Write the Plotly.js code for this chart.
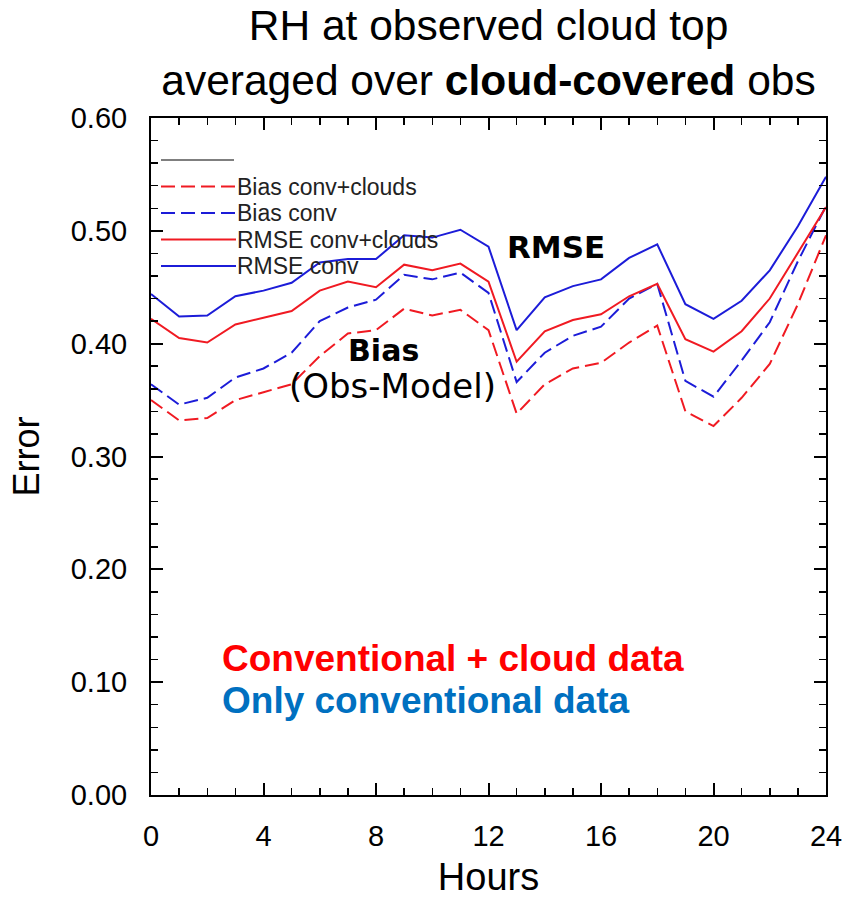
<!DOCTYPE html>
<html>
<head>
<meta charset="utf-8">
<script src="https://cdn.plot.ly/plotly-3.0.1.min.js"></script>
<style>html,body{margin:0;padding:0;background:#fff;}#chart{width:843px;height:898px;}</style>
</head>
<body>
<div id="chart"></div>
<script>
const hours = [0,1,2,3,4,5,6,7,8,9,10,11,12,13,14,15,16,17,18,19,20,21,22,23,24];
const biasConvClouds = [0.350,0.332,0.334,0.350,0.357,0.364,0.389,0.409,0.412,0.431,0.425,0.430,0.412,0.338,0.364,0.378,0.383,0.401,0.416,0.340,0.327,0.352,0.382,0.435,0.496];
const biasConv = [0.364,0.346,0.352,0.370,0.378,0.392,0.420,0.432,0.439,0.461,0.457,0.463,0.445,0.366,0.392,0.407,0.415,0.440,0.453,0.367,0.353,0.385,0.419,0.473,0.522];
const rmseConvClouds = [0.422,0.405,0.401,0.417,0.423,0.429,0.447,0.455,0.450,0.470,0.465,0.471,0.455,0.384,0.411,0.421,0.426,0.442,0.453,0.404,0.393,0.411,0.440,0.481,0.521];
const rmseConv = [0.444,0.424,0.425,0.442,0.447,0.454,0.472,0.475,0.475,0.496,0.494,0.501,0.486,0.412,0.441,0.451,0.457,0.476,0.488,0.435,0.422,0.438,0.465,0.504,0.548];
const seriesNames = ["Bias conv+clouds","Bias conv","RMSE conv+clouds","RMSE conv"];
const yTickVals = [0,0.1,0.2,0.3,0.4,0.5,0.6];
const xTickVals = [0,4,8,12,16,20,24];

const RED = "#f01a22";
const BLUE = "#1c1cd8";

const seriesData = [biasConvClouds, biasConv, rmseConvClouds, rmseConv];
const seriesColors = [RED, BLUE, RED, BLUE];
const seriesDash = ["14px,6px","14px,6px","solid","solid"];

const traces = seriesData.map((ys, i) => ({
  x: hours, y: ys, type: "scatter", mode: "lines", name: seriesNames[i],
  line: {color: seriesColors[i], width: 2, dash: seriesDash[i]},
  hoverinfo: "skip"
}));

// custom legend (long line keys like the original)
const W = 843, H = 898, mL = 151, mR = 17, mT = 118, mB = 103;
const pw = W - mL - mR, ph = H - mT - mB;
const px = v => (v - mL) / pw;
const py = v => (H - mB - v) / ph;
const legendY = [186.5, 213, 239.5, 266];
const shapes = [{type:"line", xref:"paper", yref:"paper", x0:px(161), x1:px(234), y0:py(160), y1:py(160), line:{color:"#555", width:1.5}}];
const annotations = [];
seriesNames.forEach((n, i) => {
  shapes.push({type:"line", xref:"paper", yref:"paper", x0:px(161), x1:px(236), y0:py(legendY[i]), y1:py(legendY[i]),
    line:{color: seriesColors[i], width: 2, dash: seriesDash[i] === "solid" ? "solid" : "14px,6px"}});
  annotations.push({xref:"paper", yref:"paper", x:px(235), y:py(legendY[i]), xanchor:"left", yanchor:"middle",
    text:n, showarrow:false, font:{family:"Arial, Liberation Sans, sans-serif", size:23, color:"#222"}});
});
const comic = "Comic Sans MS, DejaVu Sans, sans-serif";
annotations.push({xref:"paper", yref:"paper", x:px(556), y:py(247), text:"<b>RMSE</b>", showarrow:false, xanchor:"center", yanchor:"middle", font:{family:comic, size:31, color:"#000"}});
annotations.push({xref:"paper", yref:"paper", x:px(383), y:py(350), text:"<b>Bias</b>", showarrow:false, xanchor:"center", yanchor:"middle", font:{family:comic, size:30, color:"#000"}});
annotations.push({xref:"paper", yref:"paper", x:px(392), y:py(386), text:"(Obs-Model)", showarrow:false, xanchor:"center", yanchor:"middle", font:{family:comic, size:34, color:"#000"}});
annotations.push({xref:"paper", yref:"paper", x:px(220), y:py(658), text:"<b>Conventional + cloud data</b>", showarrow:false, xanchor:"left", yanchor:"middle", font:{family:"Arial, Liberation Sans, sans-serif", size:37, color:"#ff0000"}});
annotations.push({xref:"paper", yref:"paper", x:px(220), y:py(700), text:"<b>Only conventional data</b>", showarrow:false, xanchor:"left", yanchor:"middle", font:{family:"Arial, Liberation Sans, sans-serif", size:37, color:"#0070c0"}});

const axisFont = {family:"Arial, Liberation Sans, sans-serif", size:29, color:"#000"};
const layout = {
  width: W, height: H,
  margin: {l:mL, r:mR, t:mT, b:mB, pad:0},
  paper_bgcolor:"#fff", plot_bgcolor:"#fff",
  showlegend:false,
  title: {text:"RH at observed cloud top<br>averaged over <b>cloud-covered</b> obs",
    font:{family:"Arial, Liberation Sans, sans-serif", size:42.5, color:"#000"},
    x:0.5, xref:"paper", xanchor:"center", y:0.956, yref:"container", yanchor:"top"},
  xaxis: {range:[0,24], tickvals:xTickVals, ticktext:xTickVals.map(String), ticks:"inside", ticklen:12, tickwidth:2, tickcolor:"#000",
    showline:true, linecolor:"#000", linewidth:2, mirror:"allticks", showgrid:false, zeroline:false,
    minor:{dtick:1, tick0:0, ticks:"inside", ticklen:7, tickwidth:1.5, tickcolor:"#000", showgrid:false},
    tickfont:axisFont, ticklabelstandoff:14,
    title:{text:"Hours", font:{family:"Arial, Liberation Sans, sans-serif", size:38, color:"#000"}, standoff:20}},
  yaxis: {range:[0,0.6], tickvals:yTickVals, ticktext:yTickVals.map(v=>v.toFixed(2)), ticks:"inside", ticklen:12, tickwidth:2, tickcolor:"#000",
    showline:true, linecolor:"#000", linewidth:2, mirror:"allticks", showgrid:false, zeroline:false,
    minor:{dtick:0.02, tick0:0, ticks:"inside", ticklen:7, tickwidth:1.5, tickcolor:"#000", showgrid:false},
    tickfont:axisFont, ticklabelstandoff:16,
    title:{text:"Error", font:{family:"Arial, Liberation Sans, sans-serif", size:36, color:"#000"}, standoff:20}},
  shapes: shapes,
  annotations: annotations
};
Plotly.newPlot("chart", traces, layout, {staticPlot:true, displayModeBar:false});
</script>
</body>
</html>
